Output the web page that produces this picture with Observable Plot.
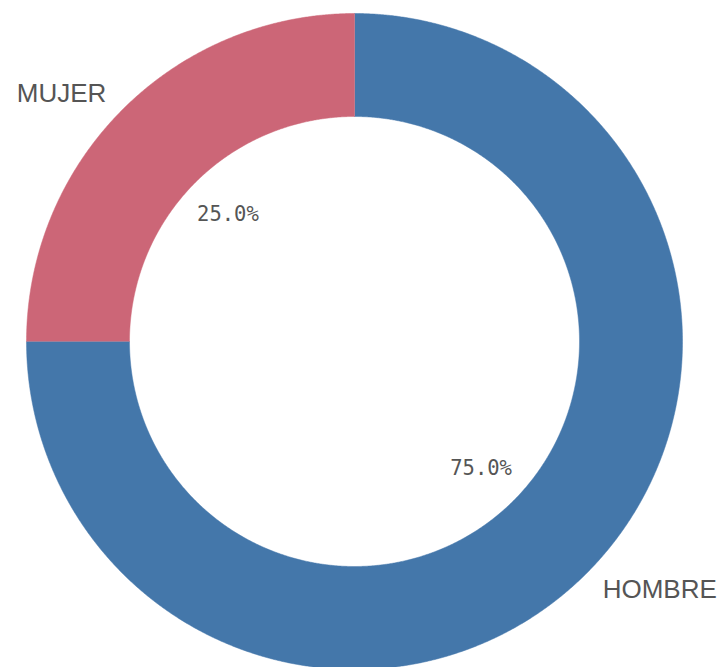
<!DOCTYPE html>
<html>
<head>
<meta charset="utf-8">
<script src="https://cdn.jsdelivr.net/npm/d3@7"></script>
<script src="https://cdn.jsdelivr.net/npm/@observablehq/plot@0.6"></script>
<style>
  html, body { margin: 0; padding: 0; background: #fff; }
  #chart { width: 725px; height: 667px; }
</style>
</head>
<body>
<div id="chart"></div>
<script>
// Data
const categories = ["HOMBRE", "MUJER"];
const values = [75.0, 25.0];
const percentLabels = ["75.0%", "25.0%"];
const colors = ["#4477AA", "#CC6677"];

// Layout constants (pixels)
const W = 725, H = 667;
const cx = 354, cy = 341;
const outerR = 328, innerR = 225;
const pctR = 179, labelR = 351;

const total = d3.sum(values);
const slices = [];
let acc = 0;
categories.forEach((c, i) => {
  const a0 = acc / total * 2 * Math.PI;
  acc += values[i];
  const a1 = acc / total * 2 * Math.PI;
  slices.push({cat: c, value: values[i], pct: percentLabels[i], a0, a1, mid: (a0 + a1) / 2});
});

// Sample the ring outline of each slice (geometry only)
const ring = [];
for (const s of slices) {
  const n = Math.max(8, Math.ceil((s.a1 - s.a0) / (Math.PI / 720)));
  for (let k = 0; k <= n; k++) {
    const a = s.a0 + (s.a1 - s.a0) * k / n;
    ring.push({cat: s.cat, x: outerR * Math.sin(a), y: outerR * Math.cos(a)});
  }
  for (let k = n; k >= 0; k--) {
    const a = s.a0 + (s.a1 - s.a0) * k / n;
    ring.push({cat: s.cat, x: innerR * Math.sin(a), y: innerR * Math.cos(a)});
  }
}

const pctPts = slices.map(s => ({...s, x: pctR * Math.sin(s.mid), y: pctR * Math.cos(s.mid)}));
const catPts = slices.map(s => ({...s, x: labelR * Math.sin(s.mid), y: labelR * Math.cos(s.mid)}));

const chart = Plot.plot({
  width: W,
  height: H,
  margin: 0,
  x: {domain: [-cx, W - cx], axis: null},
  y: {domain: [cy - H, cy], axis: null},
  color: {domain: categories, range: colors},
  style: {background: "#fff"},
  marks: [
    Plot.line(ring, {x: "x", y: "y", z: "cat", fill: "cat", stroke: "cat", strokeWidth: 0.5, curve: "linear"}),
    Plot.text(pctPts, {x: "x", y: "y", text: "pct", fill: "#555", fontSize: 20.5,
      fontFamily: "DejaVu Sans Mono", textAnchor: "middle"}),
    Plot.text(catPts.filter(d => d.x >= 0), {x: "x", y: "y", text: "cat", fill: "#555", fontSize: 26,
      fontFamily: "Liberation Sans", textAnchor: "start"}),
    Plot.text(catPts.filter(d => d.x < 0), {x: "x", y: "y", text: "cat", fill: "#555", fontSize: 26,
      fontFamily: "Liberation Sans", textAnchor: "end"})
  ]
});
document.getElementById("chart").appendChild(chart);
</script>
</body>
</html>
